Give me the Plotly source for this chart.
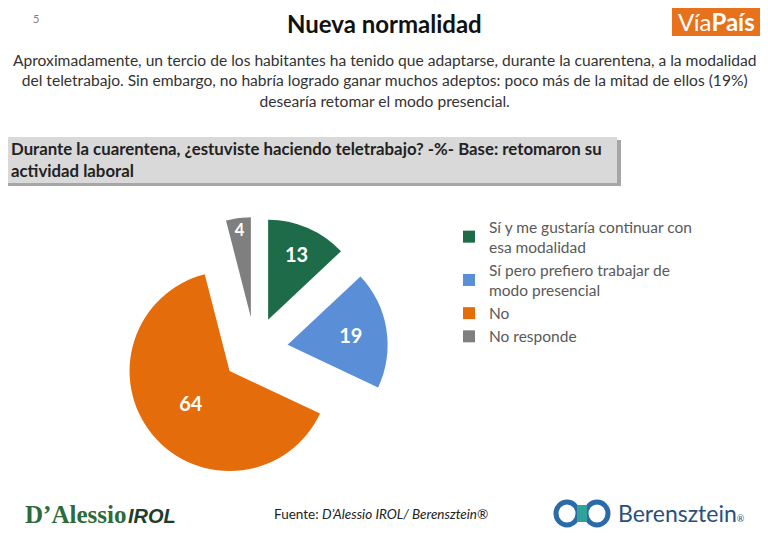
import plotly.graph_objects as go

categories = ["Sí y me gustaría continuar con<br>esa modalidad",
              "Sí pero prefiero trabajar de<br>modo presencial",
              "No",
              "No responde"]
values = [13, 19, 64, 4]
colors = ["#1d6b48", "#5a8ed6", "#e46c0a", "#7f7f7f"]

# page body has an 8px margin, so the figure is sized/offset to fit the window
OFF = 8
W, H = 768 - OFF, 543 - OFF
FONT = "Lato"

def px(x):
    return (x - OFF) / W

def py(y):
    return 1 - (y - OFF) / H

fig = go.Figure()
fig.add_trace(go.Pie(
    labels=categories,
    values=values,
    marker=dict(colors=colors, line=dict(color="white", width=0)),
    sort=False,
    direction="clockwise",
    rotation=0,
    pull=[0.33, 0.33, 0.33, 0.33],
    textinfo="value",
    textposition="inside",
    insidetextorientation="horizontal",
    textfont=dict(family=FONT, size=20, color="white", weight="bold"),
    domain=dict(x=[px(122), px(388)], y=[py(483), py(217)]),
    hoverinfo="label+value",
))

annotations = [
    dict(text="5", x=px(36), y=py(18), font=dict(size=11, color="#7f7f7f")),
    dict(text="<b>Nueva normalidad</b>", x=px(384), y=py(23), font=dict(size=24, color="#111111")),
    dict(text="Aproximadamente, un tercio de los habitantes ha tenido que adaptarse, durante la cuarentena, a la modalidad<br>"
              "del teletrabajo. Sin embargo, no habría logrado ganar muchos adeptos: poco más de la mitad de ellos (19%)<br>"
              "desearía retomar el modo presencial.",
         x=px(384), y=py(81), font=dict(size=15.6, color="#333333")),
    dict(text="<b>Durante la cuarentena, ¿estuviste haciendo teletrabajo? -%- Base: retomaron su<br>actividad laboral</b>",
         x=px(9), y=py(159), xanchor="left", align="left", font=dict(size=16.8, color="#222222")),
    dict(text="Vía<b>País</b>", x=px(716), y=py(22), font=dict(size=24, color="white")),
    dict(text="<b>D’Alessio</b>", x=px(23), y=py(514), xanchor="left",
         font=dict(family="Liberation Serif", size=25, color="#2e6b3c")),
    dict(text="<b><i>IROL</i></b>", x=px(126), y=py(516), xanchor="left",
         font=dict(family="Liberation Sans", size=20, color="#1f3d2a")),
    dict(text="Fuente: <i>D’Alessio IROL/ Berensztein®</i>", x=px(381), y=py(514),
         font=dict(size=13.5, color="#222222")),
    dict(text="Berensztein<span style='font-size:9px'>®</span>", x=px(616), y=py(513), xanchor="left",
         font=dict(size=23, color="#284f7e")),
]
for a in annotations:
    a.setdefault("xref", "paper")
    a.setdefault("yref", "paper")
    a.setdefault("showarrow", False)
    a.setdefault("xanchor", "center")
    a.setdefault("yanchor", "middle")
    f = a["font"]
    f.setdefault("family", FONT)
fig.update_layout(annotations=annotations)

shapes = [
    # question box shadow + box
    dict(type="rect", x0=px(8), x1=px(621), y0=py(186), y1=py(140), fillcolor="#a6a6a6", line=dict(width=0), layer="below"),
    dict(type="rect", x0=px(8), x1=px(617), y0=py(183), y1=py(137), fillcolor="#d9d9d9", line=dict(width=0), layer="below"),
    # ViaPais logo
    dict(type="rect", x0=px(672), x1=px(760), y0=py(36), y1=py(8), fillcolor="#e8711c", line=dict(width=0), layer="below"),
    # Berensztein symbol
    dict(type="circle", x0=px(556), x1=px(578), y0=py(525), y1=py(502), fillcolor="rgba(0,0,0,0)",
         line=dict(color="#2a6aa8", width=5)),
    dict(type="circle", x0=px(586), x1=px(608), y0=py(525), y1=py(502), fillcolor="rgba(0,0,0,0)",
         line=dict(color="#2a6aa8", width=5)),
    dict(type="rect", x0=px(577), x1=px(587), y0=py(522), y1=py(505), fillcolor="#2fa39a", line=dict(width=0)),
]
for s in shapes:
    s["xref"] = "paper"
    s["yref"] = "paper"
fig.update_layout(shapes=shapes)

fig.update_layout(
    width=W, height=H,
    margin=dict(l=0, r=0, t=0, b=0),
    paper_bgcolor="white",
    plot_bgcolor="white",
    font=dict(family=FONT),
    showlegend=True,
    legend=dict(
        x=px(449), y=py(210), xanchor="left", yanchor="top",
        font=dict(family=FONT, size=15.5, color="#595959"),
        itemsizing="constant", tracegroupgap=0, itemwidth=30,
        bgcolor="rgba(0,0,0,0)",
    ),
)

fig.write_html("out.html")
